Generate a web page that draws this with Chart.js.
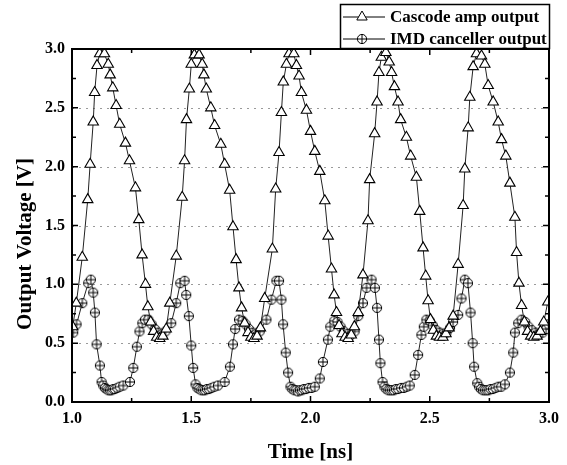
<!DOCTYPE html>
<html>
<head>
<meta charset="utf-8">
<script src="https://cdn.jsdelivr.net/npm/chart.js@4/dist/chart.umd.min.js"></script>
<style>
  body { margin: 0; background: #fff; }
  canvas { display: block; }
</style>
</head>
<body>
<canvas id="chart" width="567" height="465"></canvas>
<script>
// Cascode amp output (triangles)
const cascodeTime = [
  1.003, 1.018, 1.043, 1.066, 1.076, 1.089, 1.095, 1.105, 1.116, 1.136, 1.152, 1.160, 1.171, 1.185,
  1.200, 1.224, 1.241, 1.266, 1.280, 1.294, 1.308, 1.318, 1.330, 1.342, 1.355, 1.368, 1.381, 1.395,
  1.410, 1.437, 1.462, 1.472, 1.480, 1.492, 1.500, 1.513, 1.533, 1.546, 1.553, 1.563, 1.582, 1.598,
  1.624, 1.640, 1.661, 1.675, 1.688, 1.700, 1.711, 1.724, 1.738, 1.750, 1.763, 1.776, 1.790,
  1.808, 1.840, 1.854, 1.868, 1.878, 1.886, 1.899, 1.910, 1.930, 1.941, 1.952, 1.962, 1.983, 2.000,
  2.018, 2.039, 2.060, 2.074, 2.088, 2.099, 2.109, 2.120, 2.132, 2.145, 2.158, 2.171, 2.184,
  2.200, 2.220, 2.241, 2.248, 2.269, 2.279, 2.287, 2.297, 2.316, 2.330, 2.340, 2.352, 2.367, 2.378,
  2.402, 2.420, 2.444, 2.458, 2.472, 2.483, 2.493, 2.503, 2.515, 2.528, 2.541, 2.555, 2.568, 2.581,
  2.598, 2.619, 2.640, 2.647, 2.661, 2.668, 2.682, 2.696, 2.717, 2.731, 2.745, 2.766, 2.787, 2.801,
  2.819, 2.836, 2.857, 2.864, 2.874, 2.885, 2.897, 2.910, 2.923, 2.936, 2.950, 2.964, 2.978, 2.995
];
const cascodeVolt = [
  0.64, 0.84, 1.23, 1.72, 2.02, 2.38, 2.63, 2.86, 2.96, 2.96, 2.87, 2.78, 2.67, 2.52,
  2.36, 2.20, 2.05, 1.82, 1.55, 1.25, 1.00, 0.81, 0.68, 0.60, 0.55, 0.54, 0.56, 0.62,
  0.84, 1.24, 1.74, 2.05, 2.40, 2.66, 2.87, 2.95, 2.95, 2.87, 2.78, 2.66, 2.50, 2.35,
  2.19, 2.02, 1.80, 1.49, 1.21, 0.97, 0.80, 0.67, 0.59, 0.55, 0.54, 0.56, 0.63,
  0.88, 1.30, 1.81, 2.12, 2.46, 2.72, 2.87, 2.96, 2.96, 2.86, 2.77, 2.63, 2.48, 2.30,
  2.13, 1.96, 1.71, 1.41, 1.13, 0.91, 0.76, 0.65, 0.58, 0.55, 0.54, 0.57, 0.64,
  0.76, 1.08, 1.54, 1.89, 2.28, 2.55, 2.80, 2.93, 2.97, 2.89, 2.80, 2.68, 2.55, 2.40,
  2.25, 2.09, 1.91, 1.62, 1.31, 1.07, 0.86, 0.70, 0.61, 0.56, 0.55, 0.55, 0.58, 0.63,
  0.73, 1.17, 1.67, 1.98, 2.33, 2.59, 2.85, 2.96, 2.94, 2.87, 2.69, 2.55, 2.38, 2.23,
  2.09, 1.86, 1.57, 1.27, 1.01, 0.82, 0.68, 0.60, 0.56, 0.55, 0.56, 0.60, 0.68, 0.85
];

// IMD canceller output (circled crosses)
const imdTime = [
  1.005, 1.019, 1.043, 1.068, 1.079, 1.089, 1.096, 1.103, 1.117, 1.124, 1.131, 1.138, 1.145, 1.152,
  1.159, 1.166, 1.173, 1.180, 1.190, 1.200, 1.215, 1.243, 1.257, 1.272, 1.283, 1.295, 1.306, 1.320,
  1.334, 1.347, 1.362, 1.378, 1.392, 1.416,
  1.437, 1.454, 1.472, 1.479, 1.490, 1.500, 1.508, 1.518, 1.526, 1.534, 1.542, 1.550, 1.558, 1.566,
  1.575, 1.585, 1.597, 1.612, 1.640, 1.662, 1.675, 1.684, 1.700, 1.715, 1.728, 1.742, 1.757, 1.772,
  1.787, 1.815,
  1.836, 1.857, 1.868, 1.878, 1.885, 1.896, 1.906, 1.916, 1.924, 1.932, 1.940, 1.948, 1.956, 1.964,
  1.972, 1.982, 1.993, 2.005, 2.018, 2.039, 2.052, 2.073, 2.083, 2.100, 2.113, 2.126, 2.140, 2.155,
  2.170, 2.185,
  2.200, 2.220, 2.235, 2.256, 2.270, 2.279, 2.287, 2.293, 2.302, 2.310, 2.318, 2.326, 2.334, 2.342,
  2.350, 2.358, 2.368, 2.380, 2.392, 2.404, 2.416, 2.437, 2.451, 2.465, 2.475, 2.486, 2.500, 2.513,
  2.527, 2.541, 2.556, 2.570, 2.585,
  2.598, 2.619, 2.633, 2.647, 2.660, 2.671, 2.680, 2.686, 2.699, 2.707, 2.715, 2.723, 2.731, 2.739,
  2.747, 2.755, 2.765, 2.776, 2.788, 2.800, 2.815, 2.836, 2.850, 2.857, 2.871, 2.885, 2.900, 2.914,
  2.928, 2.943, 2.958, 2.973, 2.988, 2.998
];
const imdVolt = [
  0.59, 0.66, 0.84, 1.01, 1.04, 0.93, 0.76, 0.49, 0.31, 0.17, 0.14, 0.12, 0.11, 0.10,
  0.10, 0.10, 0.11, 0.11, 0.12, 0.13, 0.14, 0.17, 0.29, 0.47, 0.60, 0.67, 0.70, 0.70,
  0.66, 0.62, 0.59, 0.58, 0.60, 0.67,
  0.84, 1.01, 1.03, 0.91, 0.73, 0.48, 0.29, 0.15, 0.12, 0.11, 0.10, 0.10, 0.10, 0.11,
  0.11, 0.12, 0.13, 0.14, 0.17, 0.30, 0.49, 0.62, 0.70, 0.69, 0.66, 0.62, 0.59, 0.58,
  0.60, 0.70,
  0.87, 1.03, 1.03, 0.87, 0.66, 0.42, 0.25, 0.13, 0.11, 0.10, 0.10, 0.09, 0.10, 0.10,
  0.11, 0.11, 0.12, 0.12, 0.13, 0.20, 0.34, 0.53, 0.64, 0.69, 0.68, 0.64, 0.60, 0.58,
  0.57, 0.60,
  0.73, 0.84, 0.97, 1.04, 0.97, 0.80, 0.53, 0.33, 0.17, 0.13, 0.11, 0.10, 0.10, 0.10,
  0.10, 0.11, 0.11, 0.12, 0.12, 0.13, 0.14, 0.23, 0.40, 0.57, 0.64, 0.70, 0.69, 0.65,
  0.61, 0.59, 0.58, 0.59, 0.63,
  0.68, 0.74, 0.88, 1.04, 1.01, 0.76, 0.50, 0.30, 0.16, 0.13, 0.11, 0.10, 0.10, 0.10,
  0.10, 0.11, 0.11, 0.12, 0.13, 0.13, 0.15, 0.25, 0.42, 0.59, 0.67, 0.70, 0.68, 0.64,
  0.61, 0.59, 0.58, 0.59, 0.62, 0.66
];

const seriesLabels = ["Cascode amp output", "IMD canceller output"];
const gridValues = [0.5, 1.0, 1.5, 2.0, 2.5];
const xTickValues = [1.0, 1.25, 1.5, 1.75, 2.0, 2.25, 2.5, 2.75, 3.0];
const yTickValues = [0, 0.25, 0.5, 0.75, 1.0, 1.25, 1.5, 1.75, 2.0, 2.25, 2.5, 2.75, 3.0];

const serif = "'Liberation Serif', 'Times New Roman', serif";

// circle with a cross inside, used as point style
function makeCrossCircle() {
  const c = document.createElement("canvas");
  c.width = 12;
  c.height = 12;
  const g = c.getContext("2d");
  g.beginPath();
  g.arc(6, 6, 4.6, 0, Math.PI * 2);
  g.fillStyle = "#fff";
  g.fill();
  g.lineWidth = 1;
  g.strokeStyle = "#000";
  g.stroke();
  g.beginPath();
  g.moveTo(1.4, 6); g.lineTo(10.6, 6);
  g.moveTo(6, 1.4); g.lineTo(6, 10.6);
  g.stroke();
  return c;
}
const crossCircle = makeCrossCircle();

const toPoints = (ts, vs) => ts.map((t, i) => ({ x: t, y: vs[i] }));

const framePlugin = {
  id: "frame",
  beforeDatasetsDraw(chart) {
    const { ctx, chartArea: a, scales: { y } } = chart;
    ctx.save();
    ctx.strokeStyle = "#9a9a9a";
    ctx.lineWidth = 1;
    ctx.setLineDash([2, 5]);
    gridValues.forEach(v => {
      const py = Math.round(y.getPixelForValue(v)) + 0.5;
      ctx.beginPath();
      ctx.moveTo(a.left, py);
      ctx.lineTo(a.right, py);
      ctx.stroke();
    });
    ctx.restore();
  },
  afterDatasetsDraw(chart) {
    const { ctx, chartArea: a, scales: { x, y } } = chart;
    ctx.save();
    ctx.strokeStyle = "#000";
    ctx.lineWidth = 2;
    ctx.strokeRect(a.left, a.top, a.right - a.left, a.bottom - a.top);
    ctx.lineWidth = 1.5;
    ctx.beginPath();
    xTickValues.forEach(v => {
      const px = x.getPixelForValue(v);
      const len = (v * 2) % 1 === 0 ? 6 : 4;
      ctx.moveTo(px, a.bottom); ctx.lineTo(px, a.bottom - len);
      ctx.moveTo(px, a.top); ctx.lineTo(px, a.top + len);
    });
    yTickValues.forEach(v => {
      const py = y.getPixelForValue(v);
      const len = (v * 2) % 1 === 0 ? 6 : 4;
      ctx.moveTo(a.left, py); ctx.lineTo(a.left + len, py);
      ctx.moveTo(a.right, py); ctx.lineTo(a.right - len, py);
    });
    ctx.stroke();
    ctx.restore();
  },
  afterDraw(chart) {
    const { ctx } = chart;
    ctx.save();
    // y axis title
    ctx.fillStyle = "#000";
    ctx.font = "bold 21px " + serif;
    ctx.textAlign = "center";
    ctx.textBaseline = "middle";
    ctx.translate(26, 244);
    ctx.rotate(-Math.PI / 2);
    ctx.fillText("Output Voltage [V]", 0, 0);
    ctx.restore();

    // legend box
    ctx.save();
    ctx.fillStyle = "#fff";
    ctx.fillRect(340, 4, 209, 44);
    ctx.strokeStyle = "#000";
    ctx.lineWidth = 1.5;
    ctx.strokeRect(340.5, 4.5, 209, 44);
    const rows = [17, 39];
    ctx.font = "bold 17px " + serif;
    ctx.textBaseline = "middle";
    rows.forEach((ry, i) => {
      ctx.lineWidth = 1;
      ctx.strokeStyle = "#000";
      ctx.beginPath();
      ctx.moveTo(343, ry); ctx.lineTo(385, ry);
      ctx.stroke();
      if (i === 0) {
        const r = 6;
        ctx.beginPath();
        ctx.moveTo(362, ry - r);
        ctx.lineTo(362 + r * Math.sin(2 * Math.PI / 3), ry - r * Math.cos(2 * Math.PI / 3));
        ctx.lineTo(362 + r * Math.sin(4 * Math.PI / 3), ry - r * Math.cos(4 * Math.PI / 3));
        ctx.closePath();
        ctx.fillStyle = "#fff";
        ctx.fill();
        ctx.stroke();
      } else {
        ctx.drawImage(crossCircle, 362 - 6, ry - 6);
      }
      ctx.fillStyle = "#000";
      ctx.fillText(seriesLabels[i], 390, ry + 1);
    });
    ctx.restore();
  }
};

const tickFont = { family: serif, size: 16, weight: "bold" };

new Chart(document.getElementById("chart"), {
  type: "scatter",
  data: {
    datasets: [
      {
        label: seriesLabels[0],
        data: toPoints(cascodeTime, cascodeVolt),
        showLine: true,
        borderColor: "#222",
        borderWidth: 1,
        pointStyle: "triangle",
        pointRadius: 6,
        pointBorderWidth: 1.1,
        pointBorderColor: "#000",
        pointBackgroundColor: "#fff"
      },
      {
        label: seriesLabels[1],
        data: toPoints(imdTime, imdVolt),
        showLine: true,
        borderColor: "#222",
        borderWidth: 1,
        pointStyle: crossCircle,
        pointRadius: 5
      }
    ]
  },
  options: {
    responsive: false,
    animation: false,
    events: [],
    layout: { padding: { top: 49, right: 18, left: 0, bottom: 0 } },
    plugins: { legend: { display: false }, tooltip: { enabled: false } },
    scales: {
      x: {
        type: "linear",
        min: 1,
        max: 3,
        grid: { display: false, drawTicks: false, tickLength: 0 },
        border: { display: false },
        ticks: {
          stepSize: 0.5,
          autoSkip: false,
          maxRotation: 0,
          padding: 7,
          color: "#000",
          font: tickFont,
          callback: v => v.toFixed(1)
        },
        title: {
          display: true,
          text: "Time [ns]",
          color: "#000",
          font: { family: serif, size: 21, weight: "bold" },
          padding: { top: 0, bottom: 0 }
        },
        afterFit: s => { s.height = 63; }
      },
      y: {
        min: 0,
        max: 3,
        grid: { display: false, drawTicks: false, tickLength: 0 },
        border: { display: false },
        ticks: {
          stepSize: 0.5,
          padding: 7,
          color: "#000",
          font: tickFont,
          callback: v => v.toFixed(1)
        },
        afterFit: s => { s.width = 72; }
      }
    }
  },
  plugins: [framePlugin]
});
</script>
</body>
</html>
